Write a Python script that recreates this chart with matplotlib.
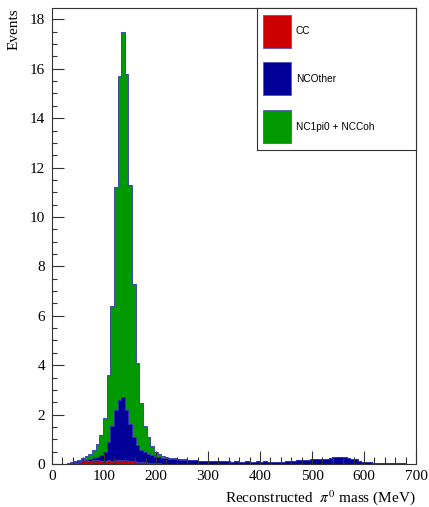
import numpy as np
import matplotlib
matplotlib.use("Agg")
import matplotlib.pyplot as plt
from matplotlib.patches import Rectangle
from matplotlib.ticker import MultipleLocator

# ---- data: 100 bins of 7 MeV from 0 to 700 MeV ----
bin_edges = np.arange(0, 701, 7)

cc = [0, 0, 0, 0, 0, 0.03, 0.06, 0.09, 0.12, 0.14,
      0.14, 0.15, 0.16, 0.14, 0.14, 0.15, 0.14, 0.16, 0.18, 0.17,
      0.15, 0.13, 0.12, 0.10, 0.08, 0.07, 0.06, 0.05, 0.04, 0.03,
      0.02, 0.02, 0.02, 0.02, 0.02, 0.02, 0.02, 0.02, 0.02, 0.02,
      0.02, 0.02, 0.02, 0.02, 0.02, 0.01, 0.01, 0.01, 0.01, 0.01,
      0.01, 0.01, 0.01, 0.01, 0.01, 0.01, 0.01, 0.01, 0.01, 0.01,
      0.01, 0.01, 0.01, 0.01, 0.01, 0.01, 0.01, 0.01, 0.01, 0.01,
      0.01, 0.01, 0.01, 0.01, 0.01, 0.01, 0.01, 0.01, 0.01, 0.01,
      0.01, 0.01, 0.01, 0.01, 0.01, 0.01, 0.01, 0.01, 0.01, 0.01,
      0.01, 0.01, 0.01, 0.01, 0.01, 0.01, 0.01, 0.01, 0.01, 0.01]

nc_other = [0, 0, 0, 0, 0.02, 0.02, 0.02, 0.03, 0.03, 0.04,
            0.06, 0.09, 0.14, 0.24, 0.36, 0.75, 1.41, 2.04, 2.42, 2.55,
            2.05, 1.47, 0.98, 0.65, 0.47, 0.41, 0.36, 0.30, 0.26, 0.24,
            0.23, 0.22, 0.20, 0.18, 0.18, 0.16, 0.15, 0.14, 0.13, 0.13,
            0.12, 0.12, 0.11, 0.12, 0.10, 0.11, 0.10, 0.11, 0.10, 0.09,
            0.10, 0.09, 0.09, 0.10, 0.09, 0.09, 0.10, 0.09, 0.10, 0.09,
            0.09, 0.09, 0.09, 0.09, 0.11, 0.12, 0.13, 0.14, 0.15, 0.17,
            0.17, 0.18, 0.19, 0.19, 0.20, 0.21, 0.24, 0.26, 0.27, 0.29,
            0.28, 0.25, 0.21, 0.19, 0.13, 0.09, 0.08, 0.07, 0.05, 0.04,
            0.04, 0.03, 0.04, 0.03, 0.04, 0.02, 0.02, 0.01, 0.01, 0.00]

nc1pi0 = [0, 0, 0, 0, 0.01, 0.02, 0.04, 0.04, 0.08, 0.14,
          0.19, 0.33, 0.50, 0.79, 1.35, 2.70, 4.85, 9.00, 13.10, 14.78,
          13.60, 9.70, 6.20, 3.35, 1.90, 1.06, 0.68, 0.38, 0.20, 0.13,
          0.07, 0.04, 0.04, 0.04, 0.02, 0.02, 0.02, 0.02, 0.01, 0,
          0, 0, 0, 0, 0, 0, 0, 0, 0, 0,
          0, 0, 0, 0, 0, 0, 0, 0, 0, 0,
          0, 0, 0, 0, 0, 0, 0, 0, 0, 0,
          0, 0, 0, 0, 0, 0, 0, 0, 0, 0,
          0, 0, 0, 0, 0, 0, 0, 0, 0, 0,
          0, 0, 0, 0, 0, 0, 0, 0, 0, 0]

labels = ["CC", "NCOther", "NC1pi0 + NCCoh"]
colors = ["#cc0000", "#000099", "#009900"]
edge = "#3535b5"

x_ticks = [0, 100, 200, 300, 400, 500, 600, 700]
y_ticks = [0, 2, 4, 6, 8, 10, 12, 14, 16, 18]

# ---- figure ----
W, H = 429, 507
fig = plt.figure(figsize=(W / 100, H / 100), dpi=100)
serif = "Liberation Serif"
plt.rcParams["mathtext.fontset"] = "stix"

L, R, T, B = 52, 416, 8, 464
ax = fig.add_axes([L / W, 1 - B / H, (R - L) / W, (B - T) / H])

centers = 0.5 * (bin_edges[:-1] + bin_edges[1:])
ax.hist([centers, centers, centers], bins=bin_edges,
        weights=[cc, nc_other, nc1pi0], stacked=True,
        histtype="stepfilled", color=colors, edgecolor=edge, linewidth=0.6)

ax.set_xlim(0, 700)
ax.set_ylim(0, 18.46)
ax.set_xticks(x_ticks)
ax.set_yticks(y_ticks)
ax.xaxis.set_minor_locator(MultipleLocator(20))
ax.yaxis.set_minor_locator(MultipleLocator(0.5))
ax.tick_params(axis="x", which="major", direction="in", length=9.5, width=0.8,
               pad=4, labelsize=11, color="#333333")
ax.tick_params(axis="x", which="minor", direction="in", length=4.7, width=0.8,
               color="#333333")
ax.tick_params(axis="y", which="major", direction="in", length=8.6, width=0.8,
               pad=5, labelsize=11, color="#333333")
ax.tick_params(axis="y", which="minor", direction="in", length=3.8, width=0.8,
               color="#333333")
ax.tick_params(top=False, right=False, which="both")
for lab in ax.get_xticklabels() + ax.get_yticklabels():
    lab.set_fontfamily(serif)
for s in ax.spines.values():
    s.set_linewidth(0.8)
    s.set_color("#333333")

fig.text(14 / W, 1 - 8 / H, "Events", rotation=90, ha="center", va="top",
         fontsize=11, family=serif)
fig.text(R / W, 1 - 498 / H, r"Reconstructed  $\pi^{0}$ mass (MeV)",
         ha="right", va="center", fontsize=11, family=serif)

# ---- legend box (ROOT style) ----
lx0, lx1, ly0, ly1 = 257, 416, 8, 150
lax = fig.add_axes([lx0 / W, 1 - ly1 / H, (lx1 - lx0) / W, (ly1 - ly0) / H])
lax.set_xlim(lx0, lx1)
lax.set_ylim(ly1, ly0)
lax.set_xticks([])
lax.set_yticks([])
for s in lax.spines.values():
    s.set_linewidth(0.8)
    s.set_color("#333333")
sw_top = [15, 62, 110]
for lab, col, top in zip(labels, colors, sw_top):
    lax.add_patch(Rectangle((263, top), 28, 33, facecolor=col,
                            edgecolor="#5555bb", linewidth=0.6))
    lax.text(296, top + 16.5, lab, ha="left", va="center", fontsize=7.3,
             family="Liberation Sans")

fig.savefig("out.png", dpi=100)
